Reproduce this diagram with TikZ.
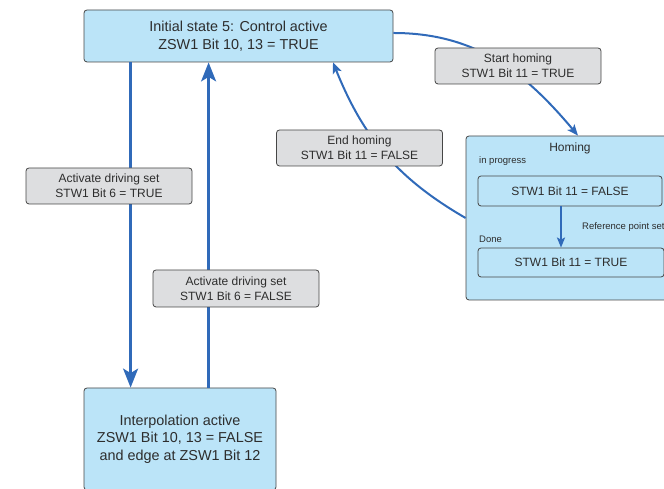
\documentclass[tikz,border=0pt]{standalone}
\usepackage{fontspec}
\setmainfont{Liberation Sans}
\usetikzlibrary{arrows.meta,positioning,calc}
\definecolor{stateblue}{RGB}{187,228,248}
\definecolor{labelgray}{RGB}{221,222,224}
\definecolor{framegray}{RGB}{70,70,70}
\definecolor{flowblue}{RGB}{48,106,185}
\definecolor{textgray}{RGB}{45,45,45}
\tikzset{
  statebox/.style={draw=framegray,rounded corners=3pt,fill=#1,line width=0.8pt,align=center,text=textgray,inner sep=0pt,font=\fontsize{14.4}{17.5}\selectfont},
  condbox/.style={draw=framegray,rounded corners=3pt,fill=#1,line width=0.8pt,align=center,text=textgray,inner sep=0pt,minimum width=166pt,minimum height=36pt,font=\fontsize{12}{15}\selectfont},
  stepbox/.style={draw=framegray,rounded corners=3pt,fill=#1,line width=0.8pt,align=center,text=textgray,inner sep=0pt,minimum height=30pt,font=\fontsize{12}{15}\selectfont},
  note/.style={text=textgray,inner sep=0pt,anchor=west,font=\fontsize{#1}{#1}\selectfont},
}

\begin{document}
\begin{tikzpicture}[
    x=1pt,y=1pt,
    flow/.style={-{Stealth[length=19pt,width=15pt,inset=4.5pt]},line width=2.4pt,flowblue},
    curve/.style={-{Stealth[length=11pt,width=9pt,inset=2.5pt]},line width=2pt,flowblue},
    substep/.style={-{Stealth[length=10pt,width=8pt,inset=2pt]},line width=2pt,flowblue},
  ]
    \useasboundingbox (0,0) rectangle (664,489);
    \clip (0,0) rectangle (664,489);
    % States
    \node[statebox=stateblue,minimum width=309pt,minimum height=52pt] (init) at (238.5,453)
      {Initial state 5: Control active\\ZSW1 Bit 10, 13 = TRUE};
    \node[statebox=stateblue,minimum width=192pt,minimum height=102pt] (interp) at (180,50)
      {Interpolation active\\ZSW1 Bit 10, 13 = FALSE\\and edge at ZSW1 Bit 12};
    % Homing with its two steps
    \node[statebox=stateblue,minimum width=208pt,minimum height=164pt] (homing) at (570,271) {};
    \node[note=12,anchor=north,below=7pt of homing.north] (homtitle) {Homing};
    \node[stepbox=stateblue,minimum width=184pt] (inprog) at (570,298) {STW1 Bit 11 = FALSE};
    \node[stepbox=stateblue,minimum width=186pt,minimum height=29pt] (done) at (571,226.5) {STW1 Bit 11 = TRUE};
    \node[note=9.5] (inproglbl) at (479,328) {in progress};
    \node[note=9.5] (donelbl) at (479,250) {Done};
    \node[note=9.5] (reflbl) at (582,262) {Reference point set};
    \draw[substep] ([xshift=-9pt]inprog.south) -- ([xshift=-10pt]done.north);
    % Transitions
    \draw[flow] ([xshift=47pt]init.south west) -- ([xshift=47pt]interp.north west);
    \draw[flow] ([xshift=125pt]interp.north west) -- ([xshift=125pt]init.south west);
    \draw[curve] ([yshift=3pt]init.east) to[out=0,in=130] ([xshift=8pt]homing.north);
    \draw[curve] (homing.west) to[out=150,in=-68] ([xshift=94.5pt]init.south);
    % Conditions
    \node[condbox=labelgray] (starthom) at (518,423) {Start homing\\STW1 Bit 11 = TRUE};
    \node[condbox=labelgray] (endhom) at (359.5,341) {End homing\\STW1 Bit 11 = FALSE};
    \node[condbox=labelgray] (acttrue) at (109,303) {Activate driving set\\STW1 Bit 6 = TRUE};
    \node[condbox=labelgray,minimum height=37pt] (actfalse) at (236,200.5) {Activate driving set\\STW1 Bit 6 = FALSE};
  \end{tikzpicture}
\end{document}
